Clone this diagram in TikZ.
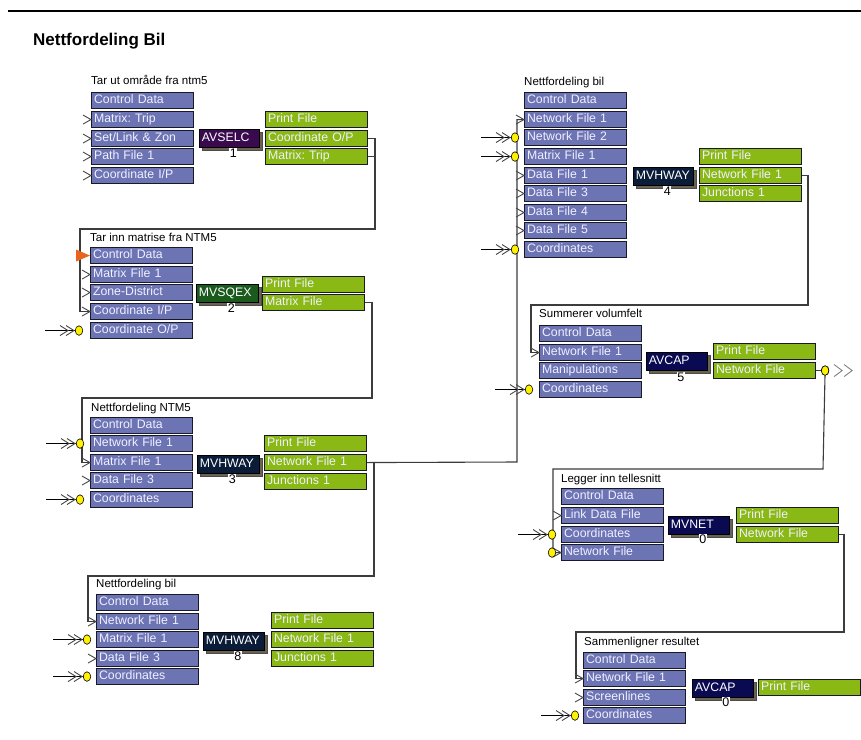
\documentclass[tikz,border=0pt]{standalone}
\usepackage{fontspec}
\setmainfont{Liberation Sans}
\frenchspacing
\usetikzlibrary{calc,shapes.geometric,shadows}
\definecolor{boxline}{RGB}{25,25,40}
\definecolor{boxtext}{RGB}{240,240,255}
\definecolor{inblue}{RGB}{108,116,180}
\definecolor{outgreen}{RGB}{138,184,20}
\definecolor{cavselc}{RGB}{58,10,78}
\definecolor{cmvsqex}{RGB}{26,90,28}
\definecolor{cmvhway}{RGB}{10,28,56}
\definecolor{cavcap}{RGB}{10,10,82}
\definecolor{shadowc}{RGB}{108,98,82}
\definecolor{wirec}{RGB}{60,60,60}
\definecolor{chevc}{RGB}{70,70,70}
\definecolor{orangec}{RGB}{232,100,30}
\tikzset{
 bx/.style={draw=boxline, line width=1.1pt, anchor=north west, minimum height=16pt,
   text width=97pt, inner xsep=2.5pt, inner ysep=0pt, text height=8.8pt, text depth=2.4pt,
   font=\fontsize{12.3}{14}\selectfont, text=boxtext, align=left},
 ibox/.style={bx, fill=inblue},
 obox/.style={bx, fill=outgreen},
 prog/.style={draw=black, line width=0.8pt, anchor=north west, minimum height=18pt,
   inner xsep=2.5pt, inner ysep=0pt, text height=8.8pt, text depth=2.4pt,
   font=\fontsize{12.3}{14}\selectfont, text=white, align=left,
   general shadow={fill=shadowc, draw=black!70, shadow xshift=3pt, shadow yshift=-3pt}},
 num/.style={fill=white, inner sep=0.6pt, font=\fontsize{12.5}{14}\selectfont, text height=8.8pt, text depth=0pt},
 lbl/.style={anchor=base west, inner sep=0pt, font=\fontsize{11.5}{13}\selectfont},
 wire/.style={draw=wirec, line width=1.1pt},
 chevst/.style={draw=chevc, line width=0.9pt},
 dot/.style={ellipse, draw=black, line width=0.6pt, fill=yellow, minimum width=7.5pt, minimum height=9.5pt, inner sep=0pt},
}
\newcommand\chv[1]{\draw[chevst] ([shift={(-8,-4.5)}]#1.west) -- (#1.west) -- ([shift={(-8,4.5)}]#1.west);}
\newcommand\extin[2]{%
 \coordinate (#1c) at ([xshift=-#2pt]#1.west);
 \draw[draw=black, line width=0.9pt] ([xshift=-34pt]#1c) -- (#1c);
 \draw[chevst] ([shift={(-19,-5)}]#1c) -- ([shift={(-11,0)}]#1c) -- ([shift={(-19,5)}]#1c);
 \draw[chevst] ([shift={(-13,-5)}]#1c) -- ([shift={(-5,0)}]#1c) -- ([shift={(-13,5)}]#1c);
 \node[dot] (#1d) at (#1c) {};}
\begin{document}
\begin{tikzpicture}[x=1pt,y=-1pt]
\useasboundingbox[fill=white] (0,0) rectangle (861,739);
\draw[line width=1.4pt] (8,11) -- (861,11);
\node[anchor=base west, inner sep=0pt, font=\bfseries\fontsize{17}{20}\selectfont] (title) at (33,45) {Nettfordeling Bil};

% ---------- Group 1 ----------
\node[lbl] (g1l) at (91,84) {Tar ut område fra ntm5};
\node[ibox] (g1i1) at (91,92) {Control Data};
\node[ibox] (g1i2) at (91,111) {Matrix: Trip};
\node[ibox] (g1i3) at (91,130) {Set/Link \& Zon};
\node[ibox] (g1i4) at (91,148) {Path File 1};
\node[ibox] (g1i5) at (91,167) {Coordinate I/P};
\node[prog, fill=cavselc, text width=55pt] (g1p) at (199,129) {AVSELC};
\node[num] (g1n) at ($(g1p.south)+(4,5)$) {1};
\node[obox] (g1o1) at (265,111) {Print File};
\node[obox] (g1o2) at (265,130) {Coordinate O/P};
\node[obox] (g1o3) at (265,148) {Matrix: Trip};

% ---------- Group 2 ----------
\node[lbl] (g2l) at (90,241) {Tar inn matrise fra NTM5};
\node[ibox] (g2i1) at (90,247) {Control Data};
\node[ibox] (g2i2) at (90,266) {Matrix File 1};
\node[ibox] (g2i3) at (90,284) {Zone-District};
\node[ibox] (g2i4) at (90,303) {Coordinate I/P};
\node[ibox] (g2i5) at (90,322) {Coordinate O/P};
\node[prog, fill=cmvsqex, text width=57pt] (g2p) at (196,284) {MVSQEX};
\node[num] (g2n) at ($(g2p.south)+(4,5)$) {2};
\node[obox] (g2o1) at (262,276) {Print File};
\node[obox] (g2o2) at (262,294) {Matrix File};

% ---------- Group 3 ----------
\node[lbl] (g3l) at (91,411) {Nettfordeling NTM5};
\node[ibox] (g3i1) at (90,417) {Control Data};
\node[ibox] (g3i2) at (90,435) {Network File 1};
\node[ibox] (g3i3) at (90,454) {Matrix File 1};
\node[ibox] (g3i4) at (90,472) {Data File 3};
\node[ibox] (g3i5) at (90,491) {Coordinates};
\node[prog, fill=cmvhway, text width=57pt] (g3p) at (197,455) {MVHWAY};
\node[num] (g3n) at ($(g3p.south)+(4,5)$) {3};
\node[obox] (g3o1) at (264,435) {Print File};
\node[obox] (g3o2) at (264,454) {Network File 1};
\node[obox] (g3o3) at (264,473) {Junctions 1};

% ---------- Group 5 (bottom left) ----------
\node[lbl] (g5l) at (96,587) {Nettfordeling bil};
\node[ibox] (g5i1) at (96,594) {Control Data};
\node[ibox] (g5i2) at (96,613) {Network File 1};
\node[ibox] (g5i3) at (96,631) {Matrix File 1};
\node[ibox] (g5i4) at (96,650) {Data File 3};
\node[ibox] (g5i5) at (96,668) {Coordinates};
\node[prog, fill=cmvhway, text width=56pt] (g5p) at (203,632) {MVHWAY};
\node[num] (g5n) at ($(g5p.south)+(4,5)$) {8};
\node[obox] (g5o1) at (271,612) {Print File};
\node[obox] (g5o2) at (271,631) {Network File 1};
\node[obox] (g5o3) at (271,650) {Junctions 1};

% ---------- Group 4 (top right) ----------
\node[lbl] (g4l) at (524,85) {Nettfordeling bil};
\node[ibox] (g4i1) at (524,92) {Control Data};
\node[ibox] (g4i2) at (524,111) {Network File 1};
\node[ibox] (g4i3) at (524,129) {Network File 2};
\node[ibox] (g4i4) at (524,148) {Matrix File 1};
\node[ibox] (g4i5) at (524,167) {Data File 1};
\node[ibox] (g4i6) at (524,185) {Data File 3};
\node[ibox] (g4i7) at (524,204) {Data File 4};
\node[ibox] (g4i8) at (524,222) {Data File 5};
\node[ibox] (g4i9) at (524,241) {Coordinates};
\node[prog, fill=cmvhway, text width=55pt] (g4p) at (633,167) {MVHWAY};
\node[num] (g4n) at ($(g4p.south)+(4,5)$) {4};
\node[obox] (g4o1) at (699,148) {Print File};
\node[obox] (g4o2) at (699,167) {Network File 1};
\node[obox] (g4o3) at (699,185) {Junctions 1};

% ---------- Summerer ----------
\node[lbl] (gsl) at (539,317) {Summerer volumfelt};
\node[ibox] (gsi1) at (539,325) {Control Data};
\node[ibox] (gsi2) at (539,344) {Network File 1};
\node[ibox] (gsi3) at (539,362) {Manipulations};
\node[ibox] (gsi4) at (539,381) {Coordinates};
\node[prog, fill=cavcap, text width=56pt] (gsp) at (646,352) {AVCAP};
\node[num] (gsn) at ($(gsp.south)+(4,6)$) {5};
\node[obox] (gso1) at (713,343) {Print File};
\node[obox] (gso2) at (713,362) {Network File};

% ---------- Legger ----------
\node[lbl] (gll) at (561,482) {Legger inn tellesnitt};
\node[ibox] (gli1) at (561,488) {Control Data};
\node[ibox] (gli2) at (561,507) {Link Data File};
\node[ibox] (gli3) at (561,526) {Coordinates};
\node[ibox] (gli4) at (561,544) {Network File};
\node[prog, fill=cavcap, text width=56pt] (glp) at (668,516) {MVNET};
\node[num] (gln) at ($(glp.south)+(4,4)$) {0};
\node[obox] (glo1) at (736,507) {Print File};
\node[obox] (glo2) at (736,526) {Network File};

% ---------- Sammenligner ----------
\node[lbl] (gml) at (584,645) {Sammenligner resultet};
\node[ibox] (gmi1) at (583,652) {Control Data};
\node[ibox] (gmi2) at (583,670) {Network File 1};
\node[ibox] (gmi3) at (583,689) {Screenlines};
\node[ibox] (gmi4) at (583,707) {Coordinates};
\node[prog, fill=cavcap, text width=56pt] (gmp) at (692,679) {AVCAP};
\node[num] (gmn) at ($(gmp.south)+(3,4)$) {0};
\node[obox] (gmo1) at (758,679) {Print File};

% ---------- Connectors ----------
\coordinate (k1) at (375,229);
\coordinate (k2) at (80,229);
\draw[wire] (g1o2.east) -| (k1) -- (k2) |- (g2i4.west);
\draw[wire] (g1o3.east) -| (k1);

\coordinate (k3) at (372,398);
\coordinate (k4) at (82,398);
\draw[wire] (g2o2.east) -| (k3) -- (k4) |- (g3i3.west);

\coordinate (k5) at (374,576);
\coordinate (k6) at (88,576);
\draw[wire] (g3o2.east) -| (k5) -- (k6) |- (g5i2.west);

\coordinate (k7) at (517,462);
\draw[wire] (g3o2.east) -- (k7) |- (g4i2.west);

\coordinate (k8) at (808,305);
\coordinate (k9) at (531,305);
\draw[wire] (g4o2.east) -| (k8) -- (k9) |- (gsi2.west);

\node[dot] (sdot) at ($(gso2.east)+(9,0)$) {};
\coordinate (k10) at (823,469);
\coordinate (k11) at (553,469);
\draw[wire] (gso2.east) -- (sdot);
\draw[wire] (sdot) -- (k10) -- (k11) |- (gli4.west);
\node[dot] (sdot2) at (sdot) {};
\draw[chevst, draw=gray] ([shift={(9,-6)}]sdot.center) -- ([shift={(17,0)}]sdot.center) -- ([shift={(9,6)}]sdot.center);
\draw[chevst, draw=gray] ([shift={(19,-6)}]sdot.center) -- ([shift={(27,0)}]sdot.center) -- ([shift={(19,6)}]sdot.center);

\coordinate (k12) at (844,632);
\coordinate (k13) at (576,632);
\draw[wire] (glo2.east) -| (k12) -- (k13) |- (gmi2.west);

% ---------- Input markers ----------
\chv{g1i2}\chv{g1i3}\chv{g1i4}\chv{g1i5}
\fill[orangec] ([shift={(-14,-6)}]g2i1.west) -- (g2i1.west) -- ([shift={(-14,6)}]g2i1.west) -- cycle;
\chv{g2i2}\chv{g2i3}\chv{g2i4}
\extin{g2i5}{11}
\extin{g3i2}{10}\chv{g3i3}\chv{g3i4}\extin{g3i5}{10}
\chv{g5i2}\extin{g5i3}{9}\chv{g5i4}\extin{g5i5}{9}
\chv{g4i2}\extin{g4i3}{9}\extin{g4i4}{9}\chv{g4i5}\chv{g4i6}\chv{g4i7}\chv{g4i8}\extin{g4i9}{9}
\chv{gsi2}\extin{gsi4}{10}
\chv{gli2}\extin{gli3}{9}\chv{gli4}
\node[dot] (gli4d) at ([xshift=-9pt]gli4.west) {};
\chv{gmi2}\chv{gmi3}\extin{gmi4}{8}
\end{tikzpicture}
\end{document}
